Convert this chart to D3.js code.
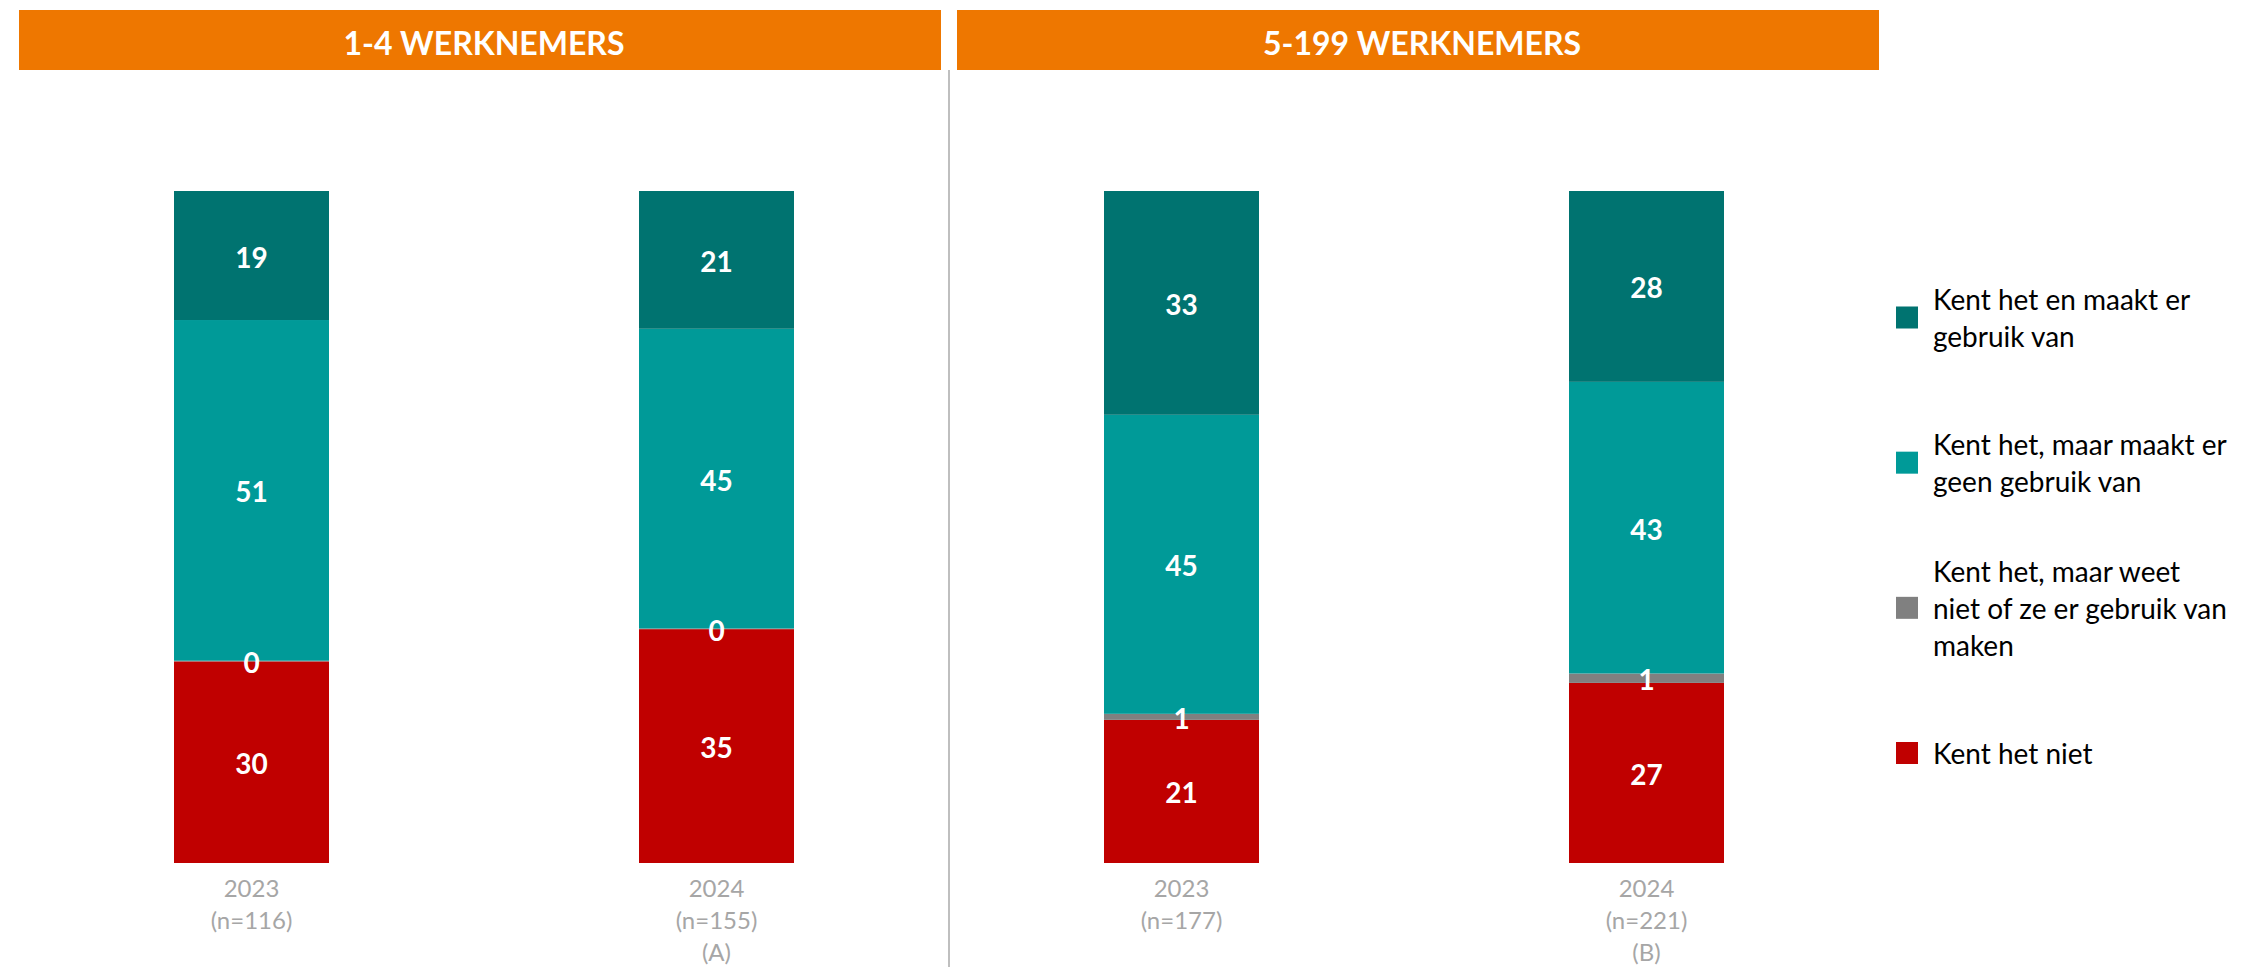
<!DOCTYPE html>
<html>
<head>
<meta charset="utf-8">
<script src="https://cdn.jsdelivr.net/npm/d3@7"></script>
<style>
  body { margin: 0; background: #fff; }
  svg { display: block; font-family: Lato, "Open Sans", sans-serif; }
</style>
</head>
<body>
<svg id="chart" width="2252" height="967"></svg>
<script>
// panels and bars
var panels = ["1-4 WERKNEMERS", "5-199 WERKNEMERS"];
var bars = ["a2023", "a2024", "b2023", "b2024"];
var tickLabels = [
  ["2023", "(n=116)"],
  ["2024", "(n=155)", "(A)"],
  ["2023", "(n=177)"],
  ["2024", "(n=221)", "(B)"]
];

// series, bottom to top of each stack (percent)
var kentNiet    = [30.0, 34.8, 21.3, 26.8];
var weetNiet    = [0.1, 0.1, 0.9, 1.4];
var geenGebruik = [50.7, 44.6, 44.5, 43.4];
var gebruik     = [19.2, 20.5, 33.3, 28.4];
var colors = ["#C00000", "#808080", "#009A98", "#007370"];

// legend, top to bottom
var legendLines = [
  ["Kent het en maakt er", "gebruik van"],
  ["Kent het, maar maakt er", "geen gebruik van"],
  ["Kent het, maar weet", "niet of ze er gebruik van", "maken"],
  ["Kent het niet"]
];
var legendColors = ["#007370", "#009A98", "#808080", "#C00000"];

var svg = d3.select("#chart");

var x = d3.scaleBand()
    .domain(bars)
    .range([19, 1879])
    .paddingInner(2 / 3)
    .paddingOuter(1 / 3);

var y = d3.scaleLinear().domain([0, 100]).range([863, 191]);

// stack the values
var table = bars.map(function(b, i) {
  return { bar: b, s0: kentNiet[i], s1: weetNiet[i], s2: geenGebruik[i], s3: gebruik[i] };
});
var layers = d3.stack().keys(["s0", "s1", "s2", "s3"])(table);

// header bars
var panelX = d3.scaleBand().domain(panels).range([19, 1879]).paddingInner(16 / 938);
svg.selectAll(".hdr")
  .data(panels)
  .enter().append("rect")
  .attr("x", function(d) { return panelX(d); })
  .attr("y", 10)
  .attr("width", panelX.bandwidth())
  .attr("height", 60)
  .attr("fill", "#EE7700");
svg.selectAll(".hdrText")
  .data(panels)
  .enter().append("text")
  .attr("x", function(d) { return panelX(d) + panelX.bandwidth() / 2 + 4; })
  .attr("y", 42)
  .attr("text-anchor", "middle")
  .attr("dominant-baseline", "central")
  .attr("fill", "#fff")
  .attr("font-weight", "bold")
  .attr("font-size", 32)
  .text(function(d) { return d; });

// separator between panels
svg.append("line")
  .attr("x1", 949).attr("x2", 949)
  .attr("y1", 70).attr("y2", 967)
  .attr("stroke", "#BFBFBF")
  .attr("stroke-width", 2);

// segments
var layer = svg.selectAll(".layer")
  .data(layers)
  .enter().append("g")
  .attr("fill", function(d, i) { return colors[i]; });

layer.selectAll("rect")
  .data(function(d) { return d; })
  .enter().append("rect")
  .attr("x", function(d) { return x(d.data.bar); })
  .attr("y", function(d) { return y(d[1]); })
  .attr("width", x.bandwidth())
  .attr("height", function(d) { return y(d[0]) - y(d[1]); });

// value labels
layers.forEach(function(l) {
  svg.append("g").selectAll("text")
    .data(l)
    .enter().append("text")
    .attr("x", function(d) { return x(d.data.bar) + x.bandwidth() / 2; })
    .attr("y", function(d) { return y((d[0] + d[1]) / 2) + 1; })
    .attr("text-anchor", "middle")
    .attr("dominant-baseline", "central")
    .attr("fill", "#fff")
    .attr("font-weight", "bold")
    .attr("font-size", 28)
    .text(function(d) { return Math.round(d[1] - d[0]); });
});

// category labels under the bars
var ticks = svg.selectAll(".tick")
  .data(bars)
  .enter().append("text")
  .attr("x", function(d) { return x(d) + x.bandwidth() / 2; })
  .attr("y", 897)
  .attr("text-anchor", "middle")
  .attr("fill", "#A6A6A6")
  .attr("font-size", 24);
ticks.selectAll("tspan")
  .data(function(d, i) { return tickLabels[i]; })
  .enter().append("tspan")
  .attr("x", function() { return d3.select(this.parentNode).attr("x"); })
  .attr("dy", function(d, i) { return i == 0 ? 0 : 32; })
  .text(function(d) { return d; });

// legend
var legendY = d3.scalePoint().domain(d3.range(4)).range([317.5, 753]);
var item = svg.selectAll(".legend")
  .data(legendLines)
  .enter().append("g")
  .attr("transform", function(d, i) { return "translate(1896," + legendY(i) + ")"; });
item.append("rect")
  .attr("x", 0).attr("y", -11)
  .attr("width", 22).attr("height", 22)
  .attr("fill", function(d, i) { return legendColors[i]; });
item.append("text")
  .attr("font-size", 28)
  .attr("fill", "#000")
  .selectAll("tspan")
  .data(function(d) { return d.map(function(t) { return { t: t, n: d.length }; }); })
  .enter().append("tspan")
  .attr("x", 37)
  .attr("y", function(d, i) { return (i - (d.n - 1) / 2) * 37 + 11; })
  .text(function(d) { return d.t; });
</script>
</body>
</html>
